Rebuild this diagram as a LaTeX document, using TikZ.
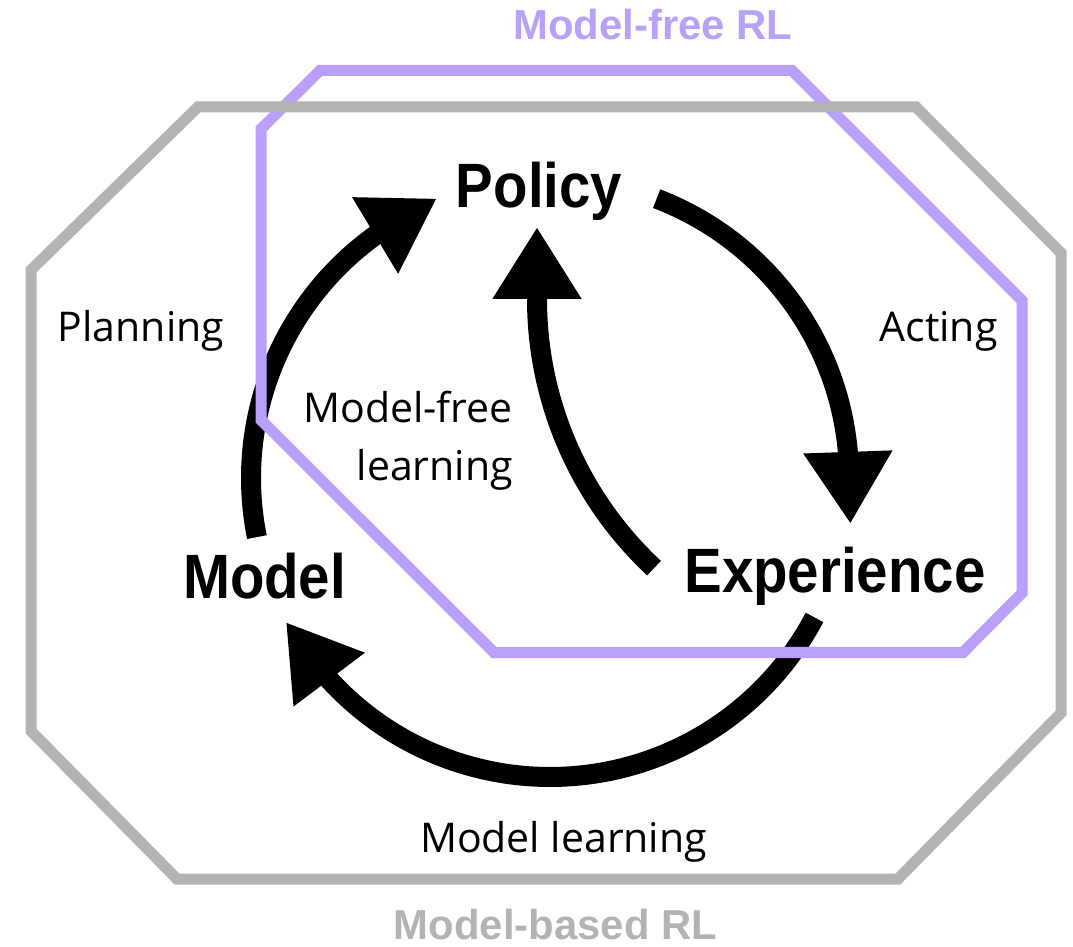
\documentclass[tikz,border=0pt]{standalone}
\usepackage{fontspec}
\usepackage{graphicx}
\setmainfont{Open Sans}
\newfontfamily\lsans{Liberation Sans}
\usetikzlibrary{arrows.meta}
\definecolor{mfpurple}{RGB}{185,160,250}
\definecolor{mbgray}{RGB}{179,179,179}
\tikzset{
  big/.style={font=\lsans\bfseries\fontsize{47}{56}\selectfont, inner sep=0pt, anchor=base},
  lab/.style={font=\fontsize{30.75}{40}\selectfont, inner sep=0pt, anchor=base},
  head/.style={font=\lsans\bfseries\fontsize{31.4}{38}\selectfont, inner sep=0pt, anchor=base},
  cyc/.style={line width=15pt, -{Triangle[width=63pt,length=54pt]}},
  region/.style={line width=8.25pt, line join=miter},
}
\begin{document}
\begin{tikzpicture}[x=0.75pt,y=0.75pt]
\useasboundingbox (0,0) rectangle (1073,946);
\coordinate (C) at (550,468);
\coordinate (C3) at (905,647);

% main labels
\node[big] (policy) at (539,738) {\scalebox{0.9}[1]{Policy}};
\node[big] (experience) at (835,353) {\scalebox{0.9}[1]{Experience}};
\node[big] (model) at (264.5,347) {\scalebox{0.9}[1]{Model}};

% process labels
\node[lab] (planning) at (141,604) {Planning};
\node[lab] (acting) at (938.5,604) {Acting};
\node[lab, anchor=base east] (mfl1) at (513,523) {Model-free};
\node[lab, anchor=base east] (mfl2) at (513,465) {learning};
\node[lab] (mlearn) at (563.5,94) {Model learning};

% cycle arrows
\coordinate (s1) at ([shift={(191.4:299)}]C);
\coordinate (s2) at ([shift={(69.1:299)}]C);
\coordinate (s4) at ([shift={(-27.8:299)}]C);
\coordinate (s3) at ([shift={(227:368)}]C3);
\draw[cyc] (s1) arc[start angle=191.4, end angle=125.8, radius=299] -- ++(31:72);
\draw[cyc] (s2) arc[start angle=69.1, end angle=5, radius=299] -- ++(-88:72);
\draw[cyc] (s4) arc[start angle=-27.8, end angle=-137.6, radius=299] -- ++(127:72);
\draw[cyc] (s3) arc[start angle=227, end angle=180, radius=368] -- ++(90:72);

% regions
\draw[region, draw=mfpurple] (320,875.5) -- (792,875.5) -- (1022,645.5) -- (1022,353) -- (963,293.5) -- (494,293.5) -- (261,526) -- (261,817) -- cycle;
\draw[region, draw=mbgray] (198,839) -- (916,839) -- (1061,693) -- (1061,233) -- (898,67) -- (177,67) -- (31,215) -- (31,676) -- cycle;

% region titles
\node[head, text=mfpurple] (mfrl) at (653,906) {Model-free RL};
\node[head, text=mbgray] (mbrl) at (555.5,7) {Model-based RL};
\end{tikzpicture}
\end{document}
